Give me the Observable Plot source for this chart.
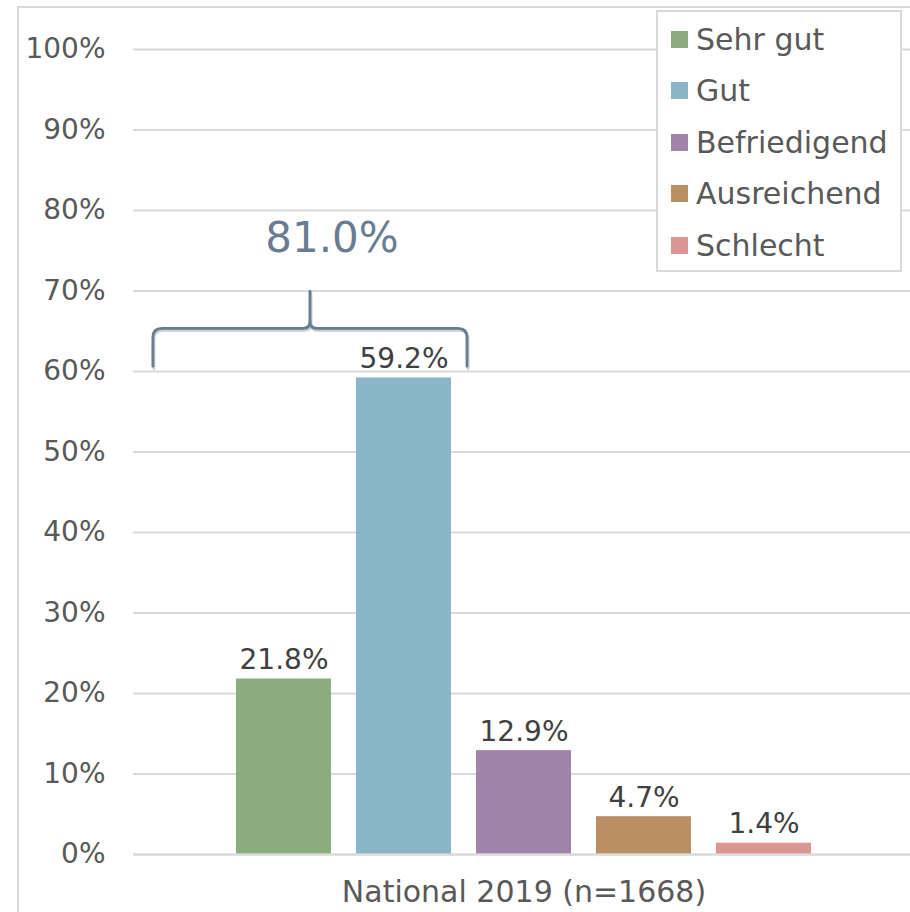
<!DOCTYPE html>
<html>
<head>
<meta charset="utf-8">
<script src="https://cdn.jsdelivr.net/npm/d3@7"></script>
<script src="https://cdn.jsdelivr.net/npm/@observablehq/plot@0.6"></script>
<style>
  html, body { margin: 0; padding: 0; background: #fff; }
  body { width: 910px; height: 912px; overflow: hidden; position: relative; font-family: "DejaVu Sans", sans-serif; }
  #frame { position: absolute; left: 17px; top: 6px; width: 1000px; height: 1000px; border: 2px solid #d9d9d9; box-sizing: border-box; }
  #chart { position: absolute; left: 0; top: 0; }
  #legend { position: absolute; left: 656px; top: 10px; width: 246px; height: 262px; border: 2px solid #d9d9d9; box-sizing: border-box; background: #fff; }
  .row { position: absolute; left: 13px; height: 40px; display: flex; align-items: center; font-size: 30px; color: #595959; white-space: nowrap; }
  .sw { width: 17px; height: 17px; margin-right: 8px; flex: none; }
</style>
</head>
<body>
<div id="frame"></div>
<div id="chart"></div>
<div id="legend"></div>
<script>
// Data
const categories = ["Sehr gut", "Gut", "Befriedigend", "Ausreichend", "Schlecht"];
const values = [21.8, 59.2, 12.9, 4.7, 1.4];
const colors = ["#8bad7e", "#89b7c8", "#a084a9", "#b99063", "#db9594"];
const yTicks = [0, 10, 20, 30, 40, 50, 60, 70, 80, 90, 100];
const groupLabel = "National 2019 (n=1668)";
const bracketCategories = ["Sehr gut", "Gut"];

const data = categories.map((c, i) => ({ category: c, value: values[i] }));
const bracketTotal = d3.sum(data.filter(d => bracketCategories.includes(d.category)), d => d.value);

const braceColor = "#687d92";

// Custom brace mark computed from the scales
function braceMark(index, scales, values_, dimensions) {
  const x = scales.x, y = scales.y;
  const bw = x.bandwidth();
  const x0 = x(bracketCategories[0]) - 0.875 * bw;
  const x1 = x(bracketCategories[bracketCategories.length - 1]) + bw + 16;
  const xm = (x0 + x1) / 2;
  const yEnd = y(60.6), yBar = y(65.3), yTop = y(69.9);
  const r = 9, rc = 7;
  const p = [
    `M${x0},${yEnd}`,
    `L${x0},${yBar + r}`,
    `Q${x0},${yBar} ${x0 + r},${yBar}`,
    `L${xm - rc},${yBar}`,
    `Q${xm},${yBar} ${xm},${yBar - rc}`,
    `L${xm},${yTop}`,
    `M${xm},${yBar - rc}`,
    `Q${xm},${yBar} ${xm + rc},${yBar}`,
    `L${x1 - r},${yBar}`,
    `Q${x1},${yBar} ${x1},${yBar + r}`,
    `L${x1},${yEnd}`
  ].join(" ");
  const g = d3.create("svg:g");
  g.append("path").attr("d", p).attr("fill", "none").attr("stroke", "#c8cdd3")
    .attr("stroke-width", 3).attr("transform", "translate(1,2)").attr("stroke-linecap", "round");
  g.append("path").attr("d", p).attr("fill", "none").attr("stroke", braceColor)
    .attr("stroke-width", 2.8).attr("stroke-linecap", "round").attr("stroke-linejoin", "round");
  g.append("text").attr("x", xm + 22).attr("y", y(74.8))
    .attr("text-anchor", "middle").attr("fill", braceColor)
    .attr("font-size", 42).attr("font-family", "DejaVu Sans, sans-serif")
    .text(bracketTotal.toFixed(1) + "%");
  return g.node();
}

const chart = Plot.plot({
  width: 910,
  height: 912,
  marginLeft: 133,
  marginRight: 0,
  marginTop: 49,
  marginBottom: 58,
  style: { fontFamily: "DejaVu Sans, sans-serif", background: "transparent", overflow: "visible" },
  x: { domain: categories, range: [223.5, 823.5], paddingInner: 25 / 120, paddingOuter: 12.5 / 120, axis: null },
  y: { domain: [0, 100], range: [854, 49], axis: null },
  marks: [
    Plot.ruleY(yTicks.filter(t => t > 0), { stroke: "#d9d9d9", strokeWidth: 2 }),
    Plot.axisY(yTicks, { tickSize: 0, tickPadding: 28, tickFormat: d => d + "%", fontSize: 28, fill: "#595959", label: null }),
    Plot.barY(data, { x: "category", y: "value", fill: (d) => colors[categories.indexOf(d.category)] }),
    Plot.ruleY([0], { stroke: "#d9d9d9", strokeWidth: 2.5 }),
    Plot.text(data, { x: "category", y: "value", text: d => d.value.toFixed(1) + "%", dy: -19, fontSize: 28, fill: "#404040" }),
    Plot.text([groupLabel], { x: () => categories[2], frameAnchor: "bottom", dy: 47, text: d => d, fontSize: 30, fill: "#595959" }),
    braceMark
  ]
});
document.getElementById("chart").appendChild(chart);

// Legend
const legend = document.getElementById("legend");
const rowCenters = [0, 1, 2, 3, 4].map(i => 27 + i * 51.6);
categories.forEach((c, i) => {
  const row = document.createElement("div");
  row.className = "row";
  row.style.top = (rowCenters[i] - 20) + "px";
  const sw = document.createElement("div");
  sw.className = "sw";
  sw.style.background = colors[i];
  const t = document.createElement("span");
  t.textContent = c;
  row.appendChild(sw);
  row.appendChild(t);
  legend.appendChild(row);
});
</script>
</body>
</html>
